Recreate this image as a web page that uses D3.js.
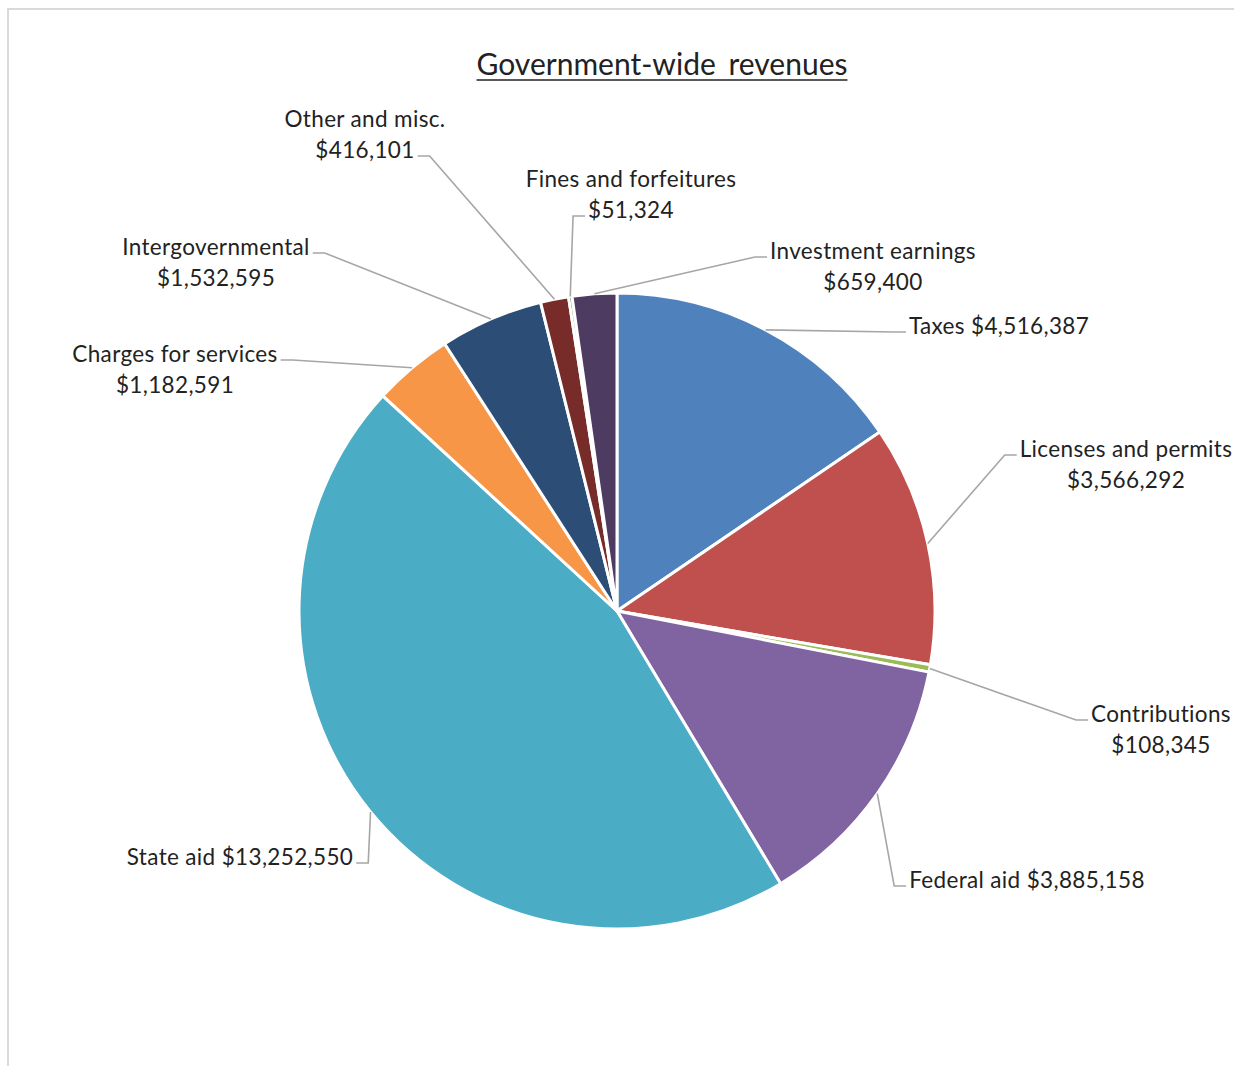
<!DOCTYPE html>
<html>
<head>
<meta charset="utf-8">
<script src="https://cdn.jsdelivr.net/npm/d3@7"></script>
<style>
  html, body { margin: 0; padding: 0; background: #ffffff; }
  svg { display: block; }
  text { font-family: Lato, "Noto Sans", sans-serif; fill: #222222; }
</style>
</head>
<body>
<svg id="chart" width="1234" height="1066"></svg>
<script>
// Revenue sources, clockwise from 12 o'clock
const chartTitle = "Government-wide revenues";
const categories = [
  "Taxes", "Licenses and permits", "Contributions", "Federal aid", "State aid",
  "Charges for services", "Intergovernmental", "Other and misc.",
  "Fines and forfeitures", "Investment earnings"
];
const values = [
  4516387, 3566292, 108345, 3885158, 13252550,
  1182591, 1532595, 416101, 51324, 659400
];
const sliceColors = [
  "#4F81BD", "#C0504D", "#9BBB59", "#8064A2", "#4BACC6",
  "#F79646", "#2C4D75", "#772C2A", "#5F7530", "#4D3B62"
];

// Label placement: centre x, first baseline, single-line flag,
// side of the label where the leader attaches, and which text line it meets
const labelLayout = [
  { cx: 999,  y: 334, oneLine: true,  side: "left",  line: 0 },
  { cx: 1126, y: 457, oneLine: false, side: "left",  line: 0 },
  { cx: 1161, y: 722, oneLine: false, side: "left",  line: 0 },
  { cx: 1027, y: 888, oneLine: true,  side: "left",  line: 0 },
  { cx: 240,  y: 865, oneLine: true,  side: "right", line: 0 },
  { cx: 175,  y: 362, oneLine: false, side: "right", line: 0 },
  { cx: 216,  y: 255, oneLine: false, side: "right", line: 0 },
  { cx: 365,  y: 127, oneLine: false, side: "right", line: 1 },
  { cx: 631,  y: 187, oneLine: false, side: "left",  line: 1 },
  { cx: 873,  y: 259, oneLine: false, side: "left",  line: 0 }
];

const W = 1234, H = 1066;
const cx = 617, cy = 611, radius = 318;
const lineGap = 31;
const fmt = d3.format("$,");

const svg = d3.select("#chart");

// chart area frame
svg.append("rect")
  .attr("x", 8).attr("y", 9)
  .attr("width", W + 20).attr("height", H + 20)
  .attr("fill", "#ffffff")
  .attr("stroke", "#d9d9d9")
  .attr("stroke-width", 2);

// title with underline
const titleText = svg.append("text")
  .attr("x", 662).attr("y", 75)
  .attr("text-anchor", "middle")
  .style("font-size", "30px")
  .style("word-spacing", "5px")
  .text(chartTitle);
const tb = titleText.node().getBBox();
svg.append("line")
  .attr("x1", tb.x).attr("x2", tb.x + tb.width)
  .attr("y1", 80).attr("y2", 80)
  .attr("stroke", "#222222").attr("stroke-width", 1.6);

const data = categories.map((c, i) => ({ name: c, value: values[i], color: sliceColors[i], layout: labelLayout[i] }));

const pie = d3.pie().sort(null).value(d => d.value).startAngle(0).endAngle(2 * Math.PI);
const arcs = pie(data);
const arc = d3.arc().innerRadius(0).outerRadius(radius);
const edge = d3.arc().innerRadius(radius).outerRadius(radius);

const g = svg.append("g").attr("transform", `translate(${cx},${cy})`);

g.selectAll("path.slice")
  .data(arcs)
  .join("path")
  .attr("class", "slice")
  .attr("d", arc)
  .attr("fill", d => d.data.color)
  .attr("stroke", "#ffffff")
  .attr("stroke-width", 3)
  .attr("stroke-linejoin", "round");

// labels and leader lines
const labels = svg.append("g");
const leaders = svg.append("g");

arcs.forEach(a => {
  const L = a.data.layout;
  const lines = L.oneLine
    ? [`${a.data.name} ${fmt(a.data.value)}`]
    : [a.data.name, fmt(a.data.value)];
  const t = labels.append("text")
    .attr("text-anchor", "middle")
    .style("font-size", "22.5px")
    .style("letter-spacing", "0.35px");
  const spans = lines.map((s, k) =>
    t.append("tspan").attr("x", L.cx).attr("y", L.y + k * lineGap).text(s));

  const w = spans[L.line].node().getComputedTextLength();
  const by = L.y + L.line * lineGap - 2;
  const ax = L.side === "left" ? L.cx - w / 2 - 3 : L.cx + w / 2 + 3;
  const ex = L.side === "left" ? ax - 12 : ax + 12;
  const [px, py] = edge.centroid(a);

  leaders.append("path")
    .attr("d", d3.line()([[cx + px, cy + py], [ex, by], [ax, by]]))
    .attr("fill", "none")
    .attr("stroke", "#a6a6a6")
    .attr("stroke-width", 1.6);
});
</script>
</body>
</html>
